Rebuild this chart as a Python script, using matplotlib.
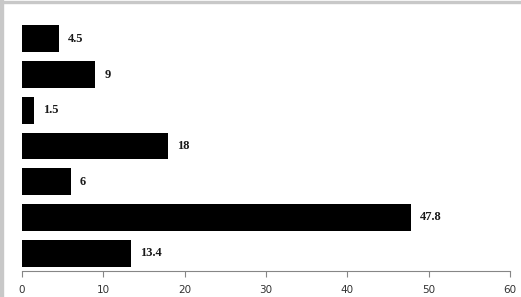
import matplotlib
matplotlib.use('Agg')
from matplotlib import pyplot as plt
from matplotlib.patches import Rectangle

# values listed top to bottom as in the chart
values = [4.5, 9, 1.5, 18, 6, 47.8, 13.4]
labels = ['4.5', '9', '1.5', '18', '6', '47.8', '13.4']
x_ticks = [0, 10, 20, 30, 40, 50, 60]


def main():
    fig = plt.figure(figsize=(5.21, 2.97), dpi=100)
    ax = fig.add_axes([22 / 521, 26 / 297, 488 / 521, 250 / 297])

    pos = list(range(len(values)))[::-1]
    ax.barh(pos, values, height=0.75, color='black')

    for p, v, lab in zip(pos, values, labels):
        ax.annotate(lab, (v, p), xytext=(6.5, 0), textcoords='offset points',
                    va='center', ha='left', fontsize=9, fontweight='bold',
                    family='Liberation Serif', color='#1a1a1a')

    ax.set_xlim(0, 60)
    ax.set_ylim(-0.5, len(values) - 0.5)
    ax.set_xticks(x_ticks)
    ax.set_yticks([])
    ax.tick_params(axis='x', direction='out', length=4, color='#868686',
                   labelsize=7.5, labelcolor='#333333', pad=6)
    for s in ['top', 'right', 'left']:
        ax.spines[s].set_visible(False)
    ax.spines['bottom'].set_color('#868686')

    # gray frame on the top and left edge of the image
    fig.patches.append(Rectangle((0, 0), 2.5 / 521, 1, transform=fig.transFigure,
                                 color='#c8c8c8', zorder=0))
    fig.patches.append(Rectangle((0, 294 / 297), 1, 1.5 / 297, transform=fig.transFigure,
                                 color='#c8c8c8', zorder=0))

    fig.savefig('out.png', dpi=100)


if __name__ == '__main__':
    main()
